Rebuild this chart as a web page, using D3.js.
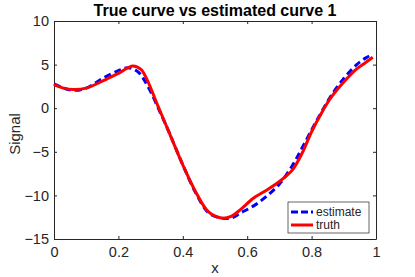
<!DOCTYPE html>
<meta charset="utf-8">
<style>
  body { margin: 0; background: #fff; }
  text { font-family: "Liberation Sans", Arial, sans-serif; fill: #262626; }
  .axis path, .axis line { stroke: #262626; }
</style>
<body>
<svg width="415" height="277"></svg>
<script src="https://cdn.jsdelivr.net/npm/d3@7"></script>
<script>

// values
var xTruth = [0, 0.03, 0.06, 0.10, 0.15, 0.20, 0.245, 0.27, 0.29, 0.32, 0.36, 0.40, 0.44, 0.48,
              0.52, 0.55, 0.58, 0.62, 0.66, 0.70, 0.74, 0.77, 0.80, 0.83, 0.86, 0.90, 0.94, 0.97, 0.99];
var yTruth = [2.7, 2.3, 2.15, 2.3, 3.1, 4.0, 4.85, 4.45, 3.2, 0.5, -3.0, -6.5, -9.6, -11.9,
              -12.6, -12.4, -11.6, -10.3, -9.4, -8.4, -7.1, -5.2, -2.7, -0.6, 1.2, 3.0, 4.5, 5.3, 5.85];

var xEst = [0, 0.03, 0.06, 0.10, 0.15, 0.20, 0.23, 0.26, 0.29, 0.33, 0.36, 0.40, 0.44, 0.48,
            0.52, 0.55, 0.58, 0.62, 0.66, 0.70, 0.74, 0.77, 0.80, 0.83, 0.86, 0.90, 0.94, 0.97, 0.99];
var yEst = [2.8, 2.3, 2.05, 2.3, 3.4, 4.3, 4.65, 4.2, 2.6, -0.5, -3.0, -6.5, -9.7, -12.0,
            -12.6, -12.6, -12.0, -11.2, -10.1, -8.7, -6.6, -4.6, -2.5, -0.5, 1.4, 3.4, 5.0, 5.8, 6.2];

var xTicks = [0, 0.2, 0.4, 0.6, 0.8, 1];
var yTicks = [-15, -10, -5, 0, 5, 10];
var legendLabels = ["estimate", "truth"];

var margin = {top: 21, right: 39, bottom: 38, left: 54};
var svg = d3.select("svg");
var width = 415 - margin.left - margin.right;
var height = 277 - margin.top - margin.bottom;

var g = svg.append("g")
    .attr("transform", "translate(" + margin.left + "," + margin.top + ")");

var x = d3.scaleLinear().domain([0, 1]).range([0, width]);
var y = d3.scaleLinear().domain([-15, 10]).range([height, 0]);

function fmt(d) { return d3.format("")(d); }

// axes with inward ticks on all four sides
g.append("g").attr("class", "axis")
    .attr("transform", "translate(0," + height + ")")
    .call(d3.axisBottom(x).tickValues(xTicks).tickFormat(fmt).tickSizeInner(-3).tickSizeOuter(0).tickPadding(8));
g.append("g").attr("class", "axis")
    .call(d3.axisTop(x).tickValues(xTicks).tickFormat("").tickSizeInner(-3).tickSizeOuter(0));
g.append("g").attr("class", "axis")
    .call(d3.axisLeft(y).tickValues(yTicks).tickFormat(fmt).tickSizeInner(-3).tickSizeOuter(0).tickPadding(5));
g.append("g").attr("class", "axis")
    .attr("transform", "translate(" + width + ",0)")
    .call(d3.axisRight(y).tickValues(yTicks).tickFormat("").tickSizeInner(-3).tickSizeOuter(0));

g.selectAll(".axis text").style("font-size", "14.5px").style("font-family", "Liberation Sans, Arial, sans-serif");

var line = d3.line().curve(d3.curveCatmullRom.alpha(0.5))
    .x(function(d) { return x(d[0]); })
    .y(function(d) { return y(d[1]); });

var est = d3.zip(xEst, yEst);
var truth = d3.zip(xTruth, yTruth);

g.append("path").datum(est)
    .attr("fill", "none").attr("stroke", "#0000ff")
    .attr("stroke-width", 3).attr("stroke-dasharray", "7,4")
    .attr("d", line);

g.append("path").datum(truth)
    .attr("fill", "none").attr("stroke", "#ff0000")
    .attr("stroke-width", 3)
    .attr("d", line);

// title and labels
svg.append("text")
    .attr("x", margin.left + width / 2).attr("y", 16)
    .attr("text-anchor", "middle")
    .style("font-size", "16px").style("font-weight", "bold")
    .style("fill", "#000")
    .text("True curve vs estimated curve 1");

svg.append("text")
    .attr("x", margin.left + width / 2).attr("y", 273)
    .attr("text-anchor", "middle")
    .style("font-size", "15px")
    .text("x");

svg.append("text")
    .attr("transform", "translate(20,134) rotate(-90)")
    .attr("text-anchor", "middle")
    .style("font-size", "15px")
    .text("Signal");

// legend
var leg = svg.append("g").attr("transform", "translate(288,202)");
leg.append("rect")
    .attr("width", 81).attr("height", 31)
    .attr("fill", "#fff").attr("stroke", "#262626").attr("stroke-width", 0.7);

var legStyles = [{c: "#0000ff", dash: "7,3"}, {c: "#ff0000", dash: null}];
legendLabels.forEach(function(lbl, i) {
    var yy = 10 + i * 13;
    leg.append("line")
        .attr("x1", 3).attr("x2", 25).attr("y1", yy).attr("y2", yy)
        .attr("stroke", legStyles[i].c).attr("stroke-width", 3)
        .attr("stroke-dasharray", legStyles[i].dash);
    leg.append("text")
        .attr("x", 28).attr("y", yy + 4)
        .style("font-size", "12px")
        .text(lbl);
});

</script>
</body>
